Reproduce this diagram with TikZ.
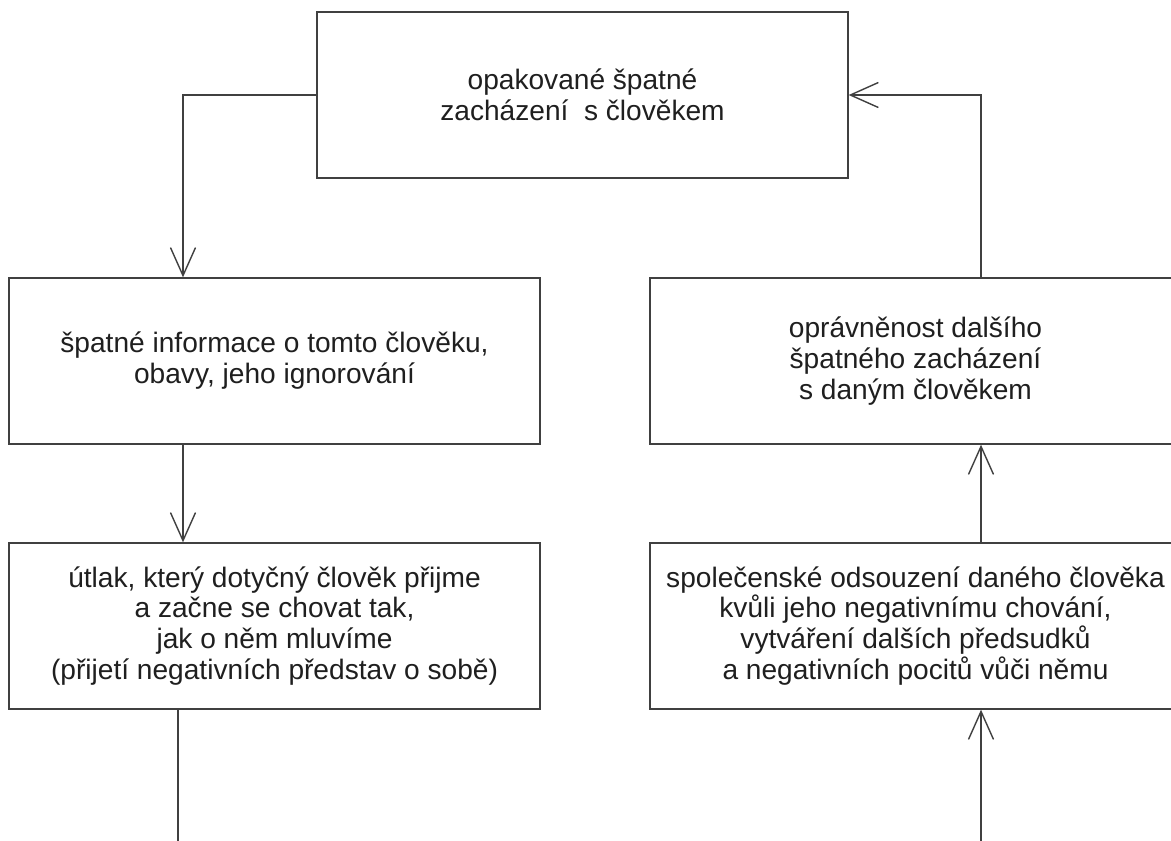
\documentclass[tikz,border=0pt]{standalone}
\usepackage{fontspec}
\setmainfont{Liberation Sans}
\usetikzlibrary{arrows.meta}
\tikzset{
  stagebox/.style={draw=black!75, line width=0.8pt, minimum width=10.62cm,
    minimum height=3.32cm, align=center, text=black!88,
    font=\fontsize{16}{17.6}\selectfont},
  flow/.style={draw=black!75, line width=0.8pt,
    -{Straight Barb[length=0.56cm, width=0.5cm, line width=0.8pt]}},
  plain/.style={draw=black!75, line width=0.8pt}
}
\begin{document}
\begin{tikzpicture}[x=0.02cm, y=-0.02cm]
  \clip (0,0) rectangle (1171,840);
  \fill[white] (0,0) rectangle (1171,840);
  \node[stagebox] (treat) at (582.5,95) {opakované špatné\\zacházení\ \ s člověkem};
  \node[stagebox] (info) at (274.5,361) {špatné informace o tomto člověku,\\obavy, jeho ignorování};
  \node[stagebox] (right) at (915.5,361) {oprávněnost dalšího\\špatného zacházení\\s daným člověkem};
  \node[stagebox] (oppress) at (274.5,626) {útlak, který dotyčný člověk přijme\\a začne se chovat tak,\\jak o něm mluvíme\\(přijetí negativních představ o sobě)};
  \node[stagebox] (condemn) at (915.5,626) {společenské odsouzení daného člověka\\kvůli jeho negativnímu chování,\\vytváření dalších předsudků\\a negativních pocitů vůči němu};

  \coordinate (lx) at (183,0);
  \coordinate (rx) at (981,0);
  \coordinate (lowleft) at (178,850);
  \coordinate (lowright) at (981,850);

  \draw[flow] (treat.west) -| (info.north -| lx);
  \draw[flow] (info.south -| lx) -- (oppress.north -| lx);
  \draw[plain] (oppress.south -| lowleft) -- (lowleft);
  \draw[flow] (lowright) -- (condemn.south -| rx);
  \draw[flow] (condemn.north -| rx) -- (right.south -| rx);
  \draw[flow] (right.north -| rx) |- (treat.east);
\end{tikzpicture}
\end{document}
